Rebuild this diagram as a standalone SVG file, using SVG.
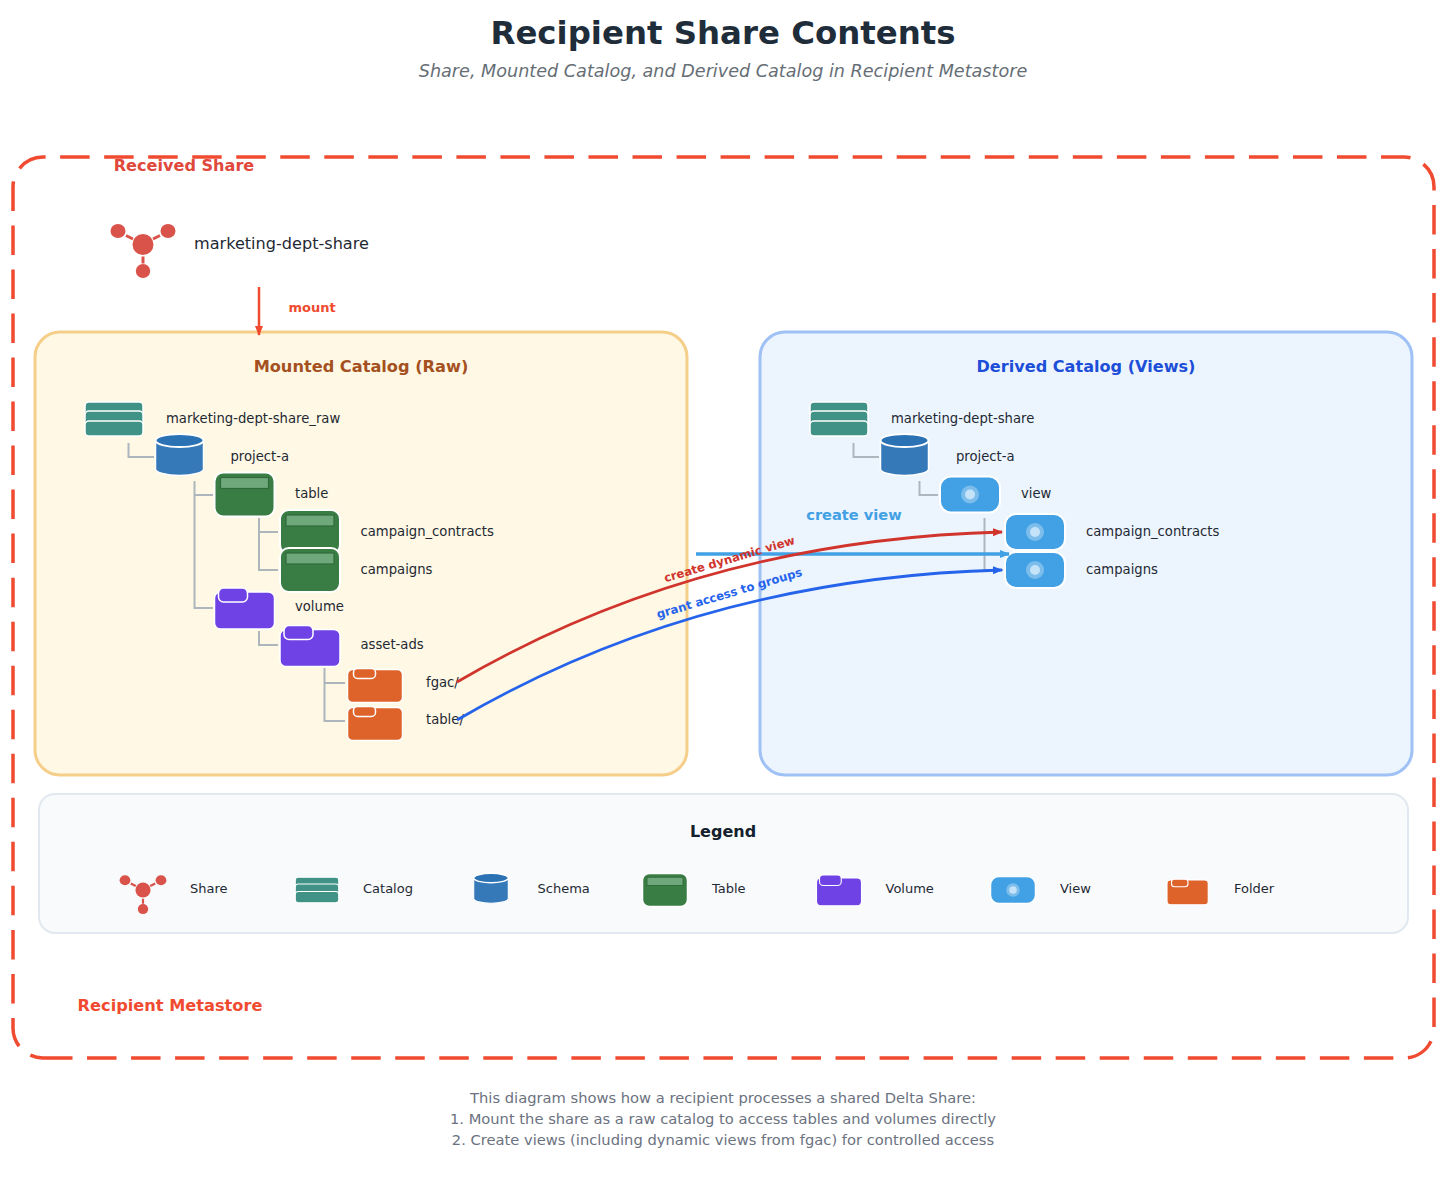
<svg xmlns="http://www.w3.org/2000/svg" width="1450" height="1202" viewBox="0 0 1450 1202">
<style>
text{font-family:"DejaVu Sans",Verdana,sans-serif}
.lb{font-size:13.2px;fill:#1f2933}
.lg{font-size:13px;fill:#1f2933}
.tree{fill:none;stroke:#adb5bd;stroke-width:2}
</style>
<defs>
<marker id="mr" markerWidth="10" markerHeight="8" refX="9" refY="4" orient="auto" markerUnits="userSpaceOnUse"><path d="M0,0L10,4L0,8z" fill="#d0342c"/></marker>
<marker id="mb" markerWidth="10" markerHeight="8" refX="9" refY="4" orient="auto" markerUnits="userSpaceOnUse"><path d="M0,0L10,4L0,8z" fill="#2563eb"/></marker>
<marker id="ml" markerWidth="10" markerHeight="8" refX="9" refY="4" orient="auto" markerUnits="userSpaceOnUse"><path d="M0,0L10,4L0,8z" fill="#42a0e4"/></marker>
<marker id="mo" markerWidth="10" markerHeight="8" refX="9" refY="4" orient="auto" markerUnits="userSpaceOnUse"><path d="M0,0L10,4L0,8z" fill="#f04a30"/></marker>
<g id="i-share" fill="#d9534a" stroke="none">
<circle r="10.5"/><ellipse cx="-25" cy="-13.5" rx="7.500" ry="7"/><ellipse cx="25" cy="-13.5" rx="7.500" ry="7"/><ellipse cy="26.5" rx="7.200" ry="7"/>
<path d="M-17,-9L-10,-5.500M17,-9L10,-5.500M0,12V19" stroke="#d9534a" stroke-width="3"/>
</g>
<g id="i-catalog" fill="#3f9285" stroke="#fff" stroke-width="1.5">
<rect x="-29" y="-17" width="58" height="15" rx="4"/><rect x="-29" y="-8" width="58" height="15" rx="4"/><rect x="-29" y="2" width="58" height="15" rx="4"/>
</g>
<g id="i-schema">
<path d="M-24,-14V14A24,6.5 0 0 0 24,14V-14z" fill="#3579b8" stroke="#fff" stroke-width="1.5"/>
<ellipse cy="-14.5" rx="24" ry="6.5" fill="#2b72b5" stroke="#fff" stroke-width="2"/>
</g>
<g id="i-table">
<rect x="-30" y="-22" width="60" height="44" rx="9" fill="#3a7d44" stroke="#fff" stroke-width="2"/>
<rect x="-24" y="-17" width="48" height="11" fill="#6fa87b" stroke="#2f6b3a" stroke-width="1.200"/>
</g>
<g id="i-volume">
<rect x="-30" y="-16" width="60" height="37" rx="6" fill="#6f42e5" stroke="#fff" stroke-width="1.500"/>
<rect x="-26" y="-20" width="29" height="14" rx="5" fill="#6f42e5" stroke="#fff" stroke-width="1.500"/>
</g>
<g id="i-folder">
<rect x="-28" y="-16" width="55" height="33" rx="5" fill="#de632b" stroke="#fff" stroke-width="1.500"/>
<rect x="-22" y="-17" width="22" height="10" rx="4" fill="#de632b" stroke="#fff" stroke-width="1.500"/>
</g>
<g id="i-view">
<rect x="-30" y="-18" width="60" height="36" rx="11" fill="#42a0e4" stroke="#fff" stroke-width="2"/>
<circle r="9" fill="#7dbdec"/><circle r="5" fill="#c5e3f8"/>
</g>
</defs>
<rect width="1450" height="1202" fill="#fff"/>
<g id="title">
<text x="723" y="44" text-anchor="middle" font-size="32.400" font-weight="700" fill="#1f2d3a">Recipient Share Contents</text>
<text x="723" y="76.500" text-anchor="middle" font-size="17.600" font-style="italic" fill="#666e75">Share, Mounted Catalog, and Derived Catalog in Recipient Metastore</text>
</g>
<g id="recipient-metastore">
<path d="M43,1058H1404A30,30 0 0 0 1434,1028V187A30,30 0 0 0 1404,157H43A30,30 0 0 0 13,187V1028A30,30 0 0 0 43,1058" fill="none" stroke="#f04a30" stroke-width="3.500" stroke-dasharray="29.500 14.530"/>
<text x="170" y="1011" text-anchor="middle" font-size="16.200" font-weight="700" fill="#f04a30">Recipient Metastore</text>
</g>
<g id="received-share">
<text x="184" y="171" text-anchor="middle" font-size="16.100" font-weight="700" fill="#e0483c">Received Share</text>
<use href="#i-share" x="143" y="244.500"/>
<text x="194" y="249" font-size="16.100" fill="#1f2933">marketing-dept-share</text>
</g>
<g id="mounted-panel">
<rect x="35" y="332" width="652" height="443" rx="25" fill="#fef8e4" stroke="#f5cf8a" stroke-width="3"/>
<text x="361" y="371.500" text-anchor="middle" font-size="16.200" font-weight="700" fill="#a4511f">Mounted Catalog (Raw)</text>
</g>
<g id="derived-panel">
<rect x="760" y="332" width="652" height="443" rx="25" fill="#ecf5fe" stroke="#9fc1f5" stroke-width="3"/>
<text x="1086" y="371.500" text-anchor="middle" font-size="16.100" font-weight="700" fill="#1d4ed8">Derived Catalog (Views)</text>
</g>
<g id="tree-connectors">
<path class="tree" d="M128.500,443V457H154M194.500,481V608H213M194.500,495H213M259,518V570H278M259,532H278M259,631V645H278M324.500,668V721H345M324.500,683H345"/>
<path class="tree" d="M853.500,443V457H879M919.500,481V495H938M984.500,518V570H1003"/>
</g>
<g id="raw-catalog"><use href="#i-catalog" x="114" y="419"/><text class="lb" x="166" y="422.500">marketing-dept-share_raw</text></g>
<g id="raw-schema"><use href="#i-schema" x="179.500" y="455"/><text class="lb" x="230.500" y="460.500">project-a</text></g>
<g id="raw-table"><use href="#i-table" x="244.500" y="494.500"/><text class="lb" x="295" y="497.500">table</text></g>
<g id="raw-campaign-contracts"><use href="#i-table" x="310" y="532"/><text class="lb" x="360.500" y="535.500">campaign_contracts</text></g>
<g id="raw-campaigns"><use href="#i-table" x="310" y="570"/><text class="lb" x="360.500" y="573.500">campaigns</text></g>
<g id="raw-volume"><use href="#i-volume" x="244.500" y="608"/><text class="lb" x="295" y="610.500">volume</text></g>
<g id="raw-asset-ads"><use href="#i-volume" x="310" y="645.500"/><text class="lb" x="360.500" y="648.500">asset-ads</text></g>
<g id="raw-fgac"><use href="#i-folder" x="375.500" y="685.500"/><text class="lb" x="426" y="686.500">fgac/</text></g>
<g id="raw-table-folder"><use href="#i-folder" x="375.500" y="723.500"/><text class="lb" x="426" y="723.500">table/</text></g>
<g id="der-catalog"><use href="#i-catalog" x="839" y="419"/><text class="lb" x="891" y="422.500">marketing-dept-share</text></g>
<g id="der-schema"><use href="#i-schema" x="904.500" y="455"/><text class="lb" x="956" y="460.500">project-a</text></g>
<g id="der-view"><use href="#i-view" x="970" y="494.500"/><text class="lb" x="1021" y="497.500">view</text></g>
<g id="der-campaign-contracts"><use href="#i-view" x="1035" y="532"/><text class="lb" x="1086" y="535.500">campaign_contracts</text></g>
<g id="der-campaigns"><use href="#i-view" x="1035" y="570"/><text class="lb" x="1086" y="573.500">campaigns</text></g>
<g id="connectors">
<path d="M259,287V335" fill="none" stroke="#f04a30" stroke-width="2.500" marker-end="url(#mo)"/>
<text x="288.500" y="312" font-size="13" font-weight="700" fill="#f04a30">mount</text>
<path d="M696,554H1009" fill="none" stroke="#42a0e4" stroke-width="3.500" marker-end="url(#ml)"/>
<text x="854" y="520" text-anchor="middle" font-size="14.600" font-weight="700" fill="#42a0e4">create view</text>
<path d="M457,682Q700,540 1002,532" fill="none" stroke="#d0342c" stroke-width="2.800" marker-end="url(#mr)"/>
<path d="M457,720Q700,578 1002,570" fill="none" stroke="#2563eb" stroke-width="2.800" marker-end="url(#mb)"/>
<text transform="translate(730.500,563) rotate(-16.500)" text-anchor="middle" font-size="11.700" font-weight="700" fill="#d0342c">create dynamic view</text>
<text transform="translate(730.500,597) rotate(-16.500)" text-anchor="middle" font-size="11.700" font-weight="700" fill="#2563eb">grant access to groups</text>
</g>
<g id="legend">
<rect x="39" y="794" width="1369" height="139" rx="16" fill="#f8fafc" stroke="#e2e8f0" stroke-width="2"/>
<text x="723" y="836.500" text-anchor="middle" font-size="16" font-weight="700" fill="#14202b">Legend</text>
<use href="#i-share" transform="translate(143,890) scale(.72)"/><text class="lg" x="190" y="893">Share</text>
<use href="#i-catalog" transform="translate(317,890) scale(.75)"/><text class="lg" x="363" y="893">Catalog</text>
<use href="#i-schema" transform="translate(491,888.500) scale(.72)"/><text class="lg" x="537.500" y="893">Schema</text>
<use href="#i-table" transform="translate(665,890) scale(.75)"/><text class="lg" x="712" y="893">Table</text>
<use href="#i-volume" transform="translate(839,890) scale(.75)"/><text class="lg" x="885.500" y="893">Volume</text>
<use href="#i-view" transform="translate(1013,890) scale(.75)"/><text class="lg" x="1060" y="893">View</text>
<use href="#i-folder" transform="translate(1188,892) scale(.75)"/><text class="lg" x="1234" y="893">Folder</text>
</g>
<g id="footer" font-size="14.700" fill="#6b7280" text-anchor="middle">
<text x="723" y="1103">This diagram shows how a recipient processes a shared Delta Share:</text>
<text x="723" y="1124">1. Mount the share as a raw catalog to access tables and volumes directly</text>
<text x="723" y="1145">2. Create views (including dynamic views from fgac) for controlled access</text>
</g>
</svg>
